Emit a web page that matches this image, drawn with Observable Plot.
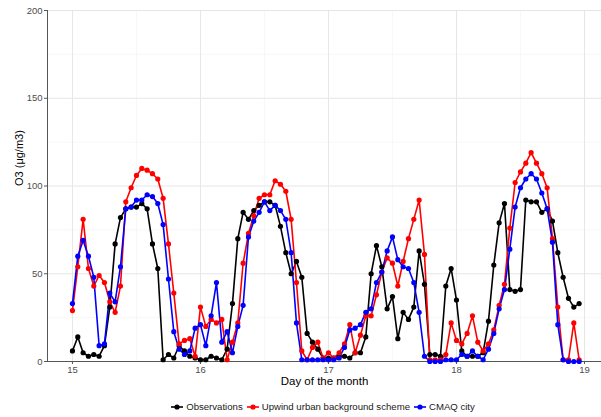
<!DOCTYPE html>
<html>
<head>
<meta charset="utf-8">
<script src="https://cdn.jsdelivr.net/npm/d3@7"></script>
<script src="https://cdn.jsdelivr.net/npm/@observablehq/plot@0.6"></script>
<style>
  body { margin: 0; background: #fff; font-family: "Liberation Sans", Arial, sans-serif; }
  #chart { position: relative; width: 601px; }
  #legend { width: 601px; box-sizing: border-box; height: 21px; display: flex; justify-content: center; align-items: center; font-size: 9.6px; color: #1a1a1a; padding-left: 47px; }
  .item { display: flex; align-items: center; margin-right: 3px; }
  .item svg { margin-right: 2px; }
</style>
</head>
<body>
<div id="chart"></div>
<div id="legend"></div>
<script>
const seriesNames = ["Observations", "Upwind urban background scheme", "CMAQ city"];
const seriesColors = ["#000000", "#ff0000", "#0000ff"];
const startDay = 15;
const xTicks = [15, 16, 17, 18, 19];
const yTicks = [0, 50, 100, 150, 200];

// hourly values from day 15 00:00 to day 18 23:00
const observations = [
  6, 14, 5, 3, 4, 3, 9, 31, 67, 82, 87, 88, 88, 90, 87, 67, 53, 1, 4, 2, 9, 6, 3, 2,
  1, 1, 3, 2, 1, 7, 33, 70, 85, 81, 86, 89, 91, 91, 89, 77, 62, 50, 57, 48, 16, 11, 7, 2,
  2, 2, 3, 3, 2, 5, 5, 14, 50, 66, 54, 30, 37, 13, 28, 24, 31, 63, 44, 4, 4, 3, 43, 53,
  35, 6, 3, 3, 3, 5, 23, 55, 79, 90, 41, 40, 41, 92, 91, 91, 85, 87, 80, 62, 48, 36, 31, 33
];
const upwind = [
  29, 54, 81, 53, 43, 49, 45, 34, 28, 43, 91, 99, 106, 110, 109, 107, 104, 93, 67, 39, 10, 12, 13, 3,
  31, 20, 24, 22, 24, 1, 11, 22, 56, 73, 83, 93, 95, 95, 103, 101, 97, 81, 45, 6, 1, 8, 11, 2,
  5, 2, 5, 10, 21, 5, 15, 26, 26, 38, 51, 59, 56, 43, 57, 70, 81, 92, 61, 1, 1, 1, 4, 22,
  12, 10, 16, 26, 11, 6, 10, 18, 32, 44, 76, 102, 108, 113, 119, 113, 107, 99, 70, 31, 1, 1, 22, 1
];
const cmaq = [
  33, 60, 69, 60, 48, 9, 10, 39, 34, 54, 87, 88, 92, 92, 95, 94, 90, 78, 47, 17, 7, 4, 6, 19,
  21, 9, 26, 45, 11, 17, 5, 20, 32, 71, 80, 85, 91, 86, 89, 86, 81, 62, 22, 1, 1, 1, 1, 1,
  1, 1, 2, 8, 18, 19, 21, 28, 30, 45, 51, 63, 71, 58, 54, 53, 45, 28, 3, 0, 0, 0, 1, 1,
  1, 4, 3, 6, 3, 1, 7, 16, 30, 41, 64, 88, 99, 104, 107, 104, 96, 87, 68, 21, 1, 0, 0, 0
];

const allSeries = [observations, upwind, cmaq];
const data = [];
allSeries.forEach((vals, i) => {
  vals.forEach((v, h) => data.push({day: startDay + h / 24, value: v, series: seriesNames[i]}));
});

const xMinor = [15.5, 16.5, 17.5, 18.5];
const yMinor = [25, 75, 125, 175];

const chart = Plot.plot({
  width: 601,
  height: 396,
  marginLeft: 47,
  marginRight: 0,
  marginTop: 10,
  marginBottom: 35,
  style: {fontFamily: "Liberation Sans, Arial, sans-serif", background: "#fff"},
  x: {domain: [14.805, 19.133]},
  y: {domain: [0, 200]},
  color: {domain: seriesNames, range: seriesColors},
  marks: [
    Plot.gridX(xMinor, {stroke: "#f2f2f2", strokeOpacity: 1, strokeWidth: 0.6}),
    Plot.gridY(yMinor, {stroke: "#f2f2f2", strokeOpacity: 1, strokeWidth: 0.6}),
    Plot.gridX(xTicks, {stroke: "#e6e6e6", strokeOpacity: 1, strokeWidth: 1}),
    Plot.gridY(yTicks, {stroke: "#e6e6e6", strokeOpacity: 1, strokeWidth: 1}),
    Plot.axisX(xTicks, {tickSize: 3, tickPadding: 2, fontSize: 9.5, color: "#4d4d4d", stroke: "#555", label: null, tickFormat: d => String(d)}),
    Plot.axisY(yTicks, {tickSize: 3, tickPadding: 2, fontSize: 9.5, color: "#4d4d4d", stroke: "#555", label: null}),
    Plot.frame({anchor: "bottom", stroke: "#555"}),
    Plot.frame({anchor: "left", stroke: "#555"}),
    Plot.line(data, {x: "day", y: "value", z: "series", stroke: "series", strokeWidth: 1.6}),
    Plot.dot(data, {x: "day", y: "value", fill: "series", r: 2.6}),
    Plot.text(["Day of the month"], {frameAnchor: "bottom", dy: 23, fontSize: 11.5, fill: "#000"}),
    Plot.text(["O3 (μg/m3)"], {frameAnchor: "left", dx: -28, rotate: -90, fontSize: 11, fill: "#000"})
  ]
});
document.getElementById("chart").appendChild(chart);

const legend = document.getElementById("legend");
seriesNames.forEach((name, i) => {
  const item = document.createElement("div");
  item.className = "item";
  item.innerHTML = `<svg width="14" height="8"><line x1="1" y1="4" x2="13" y2="4" stroke="${seriesColors[i]}" stroke-width="1.6"/><circle cx="7" cy="4" r="2.6" fill="${seriesColors[i]}"/></svg><span>${name}</span>`;
  legend.appendChild(item);
});
</script>
</body>
</html>
